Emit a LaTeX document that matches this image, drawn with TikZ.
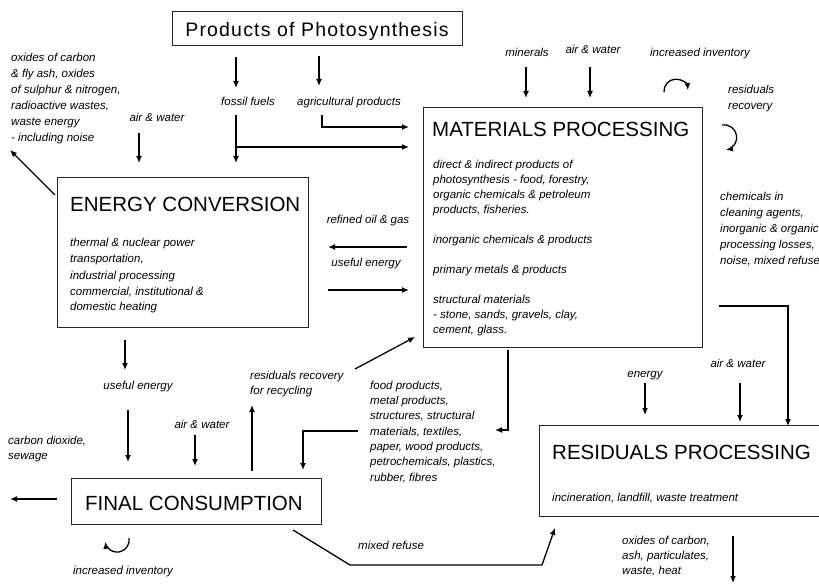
\documentclass[tikz,border=0pt]{standalone}
\usepackage{fontspec}
\setmainfont{Liberation Sans}
\usetikzlibrary{arrows.meta}

\tikzset{
  flow/.style={line width=1.3pt, -{Latex[length=7pt,width=6pt]}},
  box/.style={draw=black!85, line width=0.8pt, anchor=north west, inner sep=0pt},
  title/.style={anchor=base west, inner sep=0pt, font=\fontsize{20.5}{24}\selectfont},
  txt/.style={anchor=base west, inner sep=0pt, align=left, font=\fontsize{11.5}{15}\selectfont\itshape},
  txtwide/.style={txt, font=\fontsize{11.5}{16}\selectfont\itshape},
  lbl/.style={anchor=base, inner sep=0pt, font=\fontsize{11.5}{14}\selectfont\itshape},
}

\begin{document}
\begin{tikzpicture}[x=1pt, y=-1pt]
    \useasboundingbox (0, 0) rectangle (819, 585);

    % boxes (multi-line texts are placed by their last baseline)
    \node [box, minimum width=290, minimum height=34] (photo) at (172, 11) {};
    \node [anchor=base, inner sep=0pt, font=\fontsize{19.5}{24}\selectfont\addfontfeatures{LetterSpace=6}]
        (phototitle) at (317, 37) {Products of Photosynthesis};
    \node [box, minimum width=251, minimum height=150] (energy) at (57, 177) {};
    \node [title] (energytitle) at (70, 212) {ENERGY CONVERSION};
    \node [txtwide] (energytext) at (70, 311) {thermal \& nuclear power\\transportation,\\industrial processing\\commercial, institutional \&\\domestic heating};
    \node [box, minimum width=279, minimum height=240] (mat) at (423, 107) {};
    \node [title] (mattitle) at (432, 137) {MATERIALS PROCESSING};
    \node [txt] (mattext) at (433, 334) {direct \& indirect products of\\photosynthesis - food, forestry,\\organic chemicals \& petroleum\\products, fisheries.\\[15pt]inorganic chemicals \& products\\[15pt]primary metals \& products\\[15pt]structural materials\\- stone, sands, gravels, clay,\\cement, glass.};
    \node [box, minimum width=250, minimum height=46] (final) at (71, 478) {};
    \node [title] (finaltitle) at (85, 510) {FINAL CONSUMPTION};
    \node [box, minimum width=291, minimum height=91] (resid) at (539, 425) {};
    \node [title] (residtitle) at (552, 459) {RESIDUALS PROCESSING};
    \node [txt] (residtext) at (552, 501) {incineration, landfill, waste treatment};

    % labels
    \node [txtwide] (emis) at (11, 142) {oxides of carbon\\\& fly ash, oxides\\of sulphur \& nitrogen,\\radioactive wastes,\\waste energy\\- including noise};
    \node [lbl] (fossil) at (248, 106) {fossil fuels};
    \node [lbl] (agri) at (349, 106) {agricultural products};
    \node [lbl] (airen) at (157, 122) {air \& water};
    \node [lbl] (minerals) at (527, 57) {minerals};
    \node [lbl] (airmat) at (593, 54) {air \& water};
    \node [lbl] (invmat) at (700, 57) {increased inventory};
    \node [txtwide] (recmat) at (728, 110) {residuals\\recovery};
    \node [txtwide] (chem) at (720, 265) {chemicals in\\cleaning agents,\\inorganic \& organic\\processing losses,\\noise, mixed refuse};
    \node [lbl] (refined) at (368, 224) {refined oil \& gas};
    \node [lbl] (usefulmat) at (366, 267) {useful energy};
    \node [lbl] (usefulfin) at (138, 389) {useful energy};
    \node [txt] (recfin) at (250, 394) {residuals recovery\\for recycling};
    \node [txt, font=\fontsize{11.5}{15.3}\selectfont\itshape] (goods) at (370, 481) {food products,\\metal products,\\structures, structural\\materials, textiles,\\paper, wood products,\\petrochemicals, plastics,\\rubber, fibres};
    \node [lbl] (airfin) at (202, 428) {air \& water};
    \node [txt] (co2) at (8, 459) {carbon dioxide,\\sewage};
    \node [lbl] (invfin) at (123, 574) {increased inventory};
    \node [txt] (refuse) at (358, 549) {mixed refuse};
    \node [lbl] (enres) at (645, 377) {energy};
    \node [lbl] (airres) at (738, 367) {air \& water};
    \node [txt] (oxres) at (622, 574) {oxides of carbon,\\ash, particulates,\\waste, heat};

    % connector points
    \coordinate (fosA) at (236, 57);
    \coordinate (fosB) at (236, 88);
    \coordinate (agrA) at (319, 56);
    \coordinate (agrB) at (319, 86);
    \coordinate (fosC) at (236, 115);
    \coordinate (fosD) at (236, 163);
    \coordinate (fosE) at (236, 147);
    \coordinate (fosF) at (409, 147);
    \coordinate (agrC) at (322, 115);
    \coordinate (agrD) at (322, 127);
    \coordinate (agrE) at (409, 127);
    \coordinate (emisA) at (55, 195);
    \coordinate (emisB) at (10, 150);
    \coordinate (outfin) at (10, 499);
    \coordinate (matR) at (719, 306);
    \coordinate (matRB) at (788, 306);
    \coordinate (matB) at (508, 350);
    \coordinate (matBB) at (508, 430);
    \coordinate (matBC) at (495, 430);
    \coordinate (goodsA) at (358, 431);
    \coordinate (goodsB) at (303, 431);
    \coordinate (recA) at (355, 369);
    \coordinate (recB) at (415, 337);
    \coordinate (refA) at (293, 530);
    \coordinate (refB) at (350, 565);
    \coordinate (refC) at (542, 565);
    \coordinate (refD) at (555, 528);

    % connectors
    \draw [flow] (fosA) -- (fosB);
    \draw [flow] (agrA) -- (agrB);
    \draw [flow] (fosC) -- (fosD);
    \draw [flow] (fosE) -- (fosF);
    \draw [flow] (agrC) -- (agrD) -- (agrE);
    \draw [flow] (139, 133) -- (139, 163);
    \draw [flow] (emisA) -- (emisB);
    \draw [flow] (407, 247) -- (328, 247);
    \draw [flow] (328, 290) -- (409, 290);
    \draw [flow] (526, 67) -- (526, 98);
    \draw [flow] (590, 67) -- (590, 98);
    \draw [flow] (664, 92) arc [start angle=176, end angle=355, radius=12];
    \draw [flow] (722, 125) arc [start angle=-100, end angle=82, radius=12.5];
    \draw [flow] (125, 340) -- (125, 370);
    \draw [flow] (128, 410) -- (128, 462);
    \draw [flow] (195, 435) -- (195, 466);
    \draw [flow] (252, 471) -- (252, 405);
    \draw [flow] (recA) -- (recB);
    \draw [flow] (matR) -- (matRB) -- (788, 426);
    \draw [flow] (matB) -- (matBB) -- (matBC);
    \draw [flow] (goodsA) -- (goodsB) -- (303, 470);
    \draw [flow] (57, 499) -- (outfin);
    \draw [flow] (129, 538) arc [start angle=-10, end angle=172, radius=12];
    \draw [flow] (refA) -- (refB) -- (refC) -- (refD);
    \draw [flow] (645, 383) -- (645, 415);
    \draw [flow] (740, 383) -- (740, 422);
    \draw [flow] (733, 536) -- (733, 583);
\end{tikzpicture}
\end{document}
